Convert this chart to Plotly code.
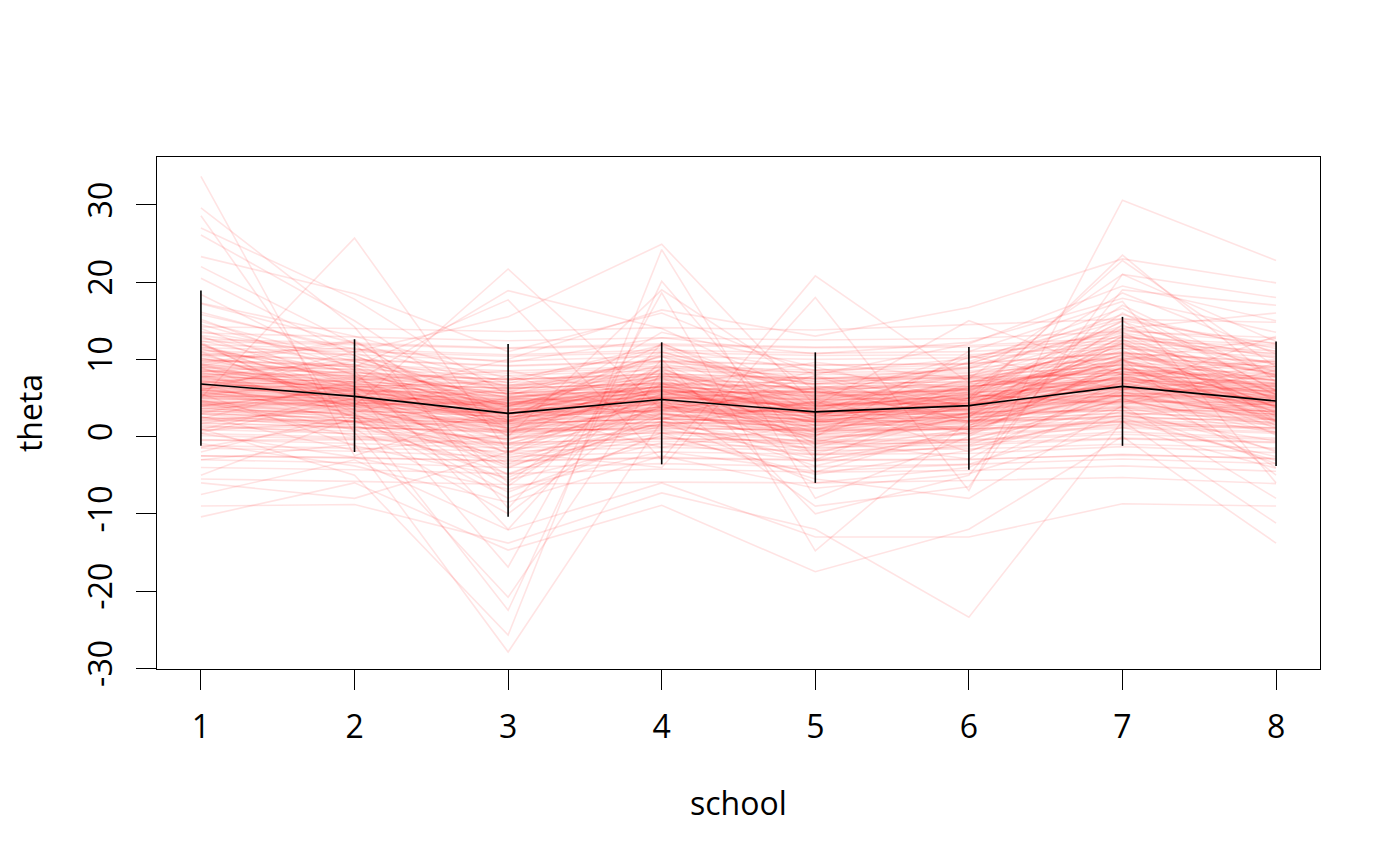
import plotly.graph_objects as go

# eight schools: posterior draws of theta + summary
schools = [1, 2, 3, 4, 5, 6, 7, 8]

theta_mean = [6.8, 5.2, 3.0, 4.8, 3.2, 4.0, 6.5, 4.6]
theta_low = [-1.2, -2.0, -10.4, -3.6, -6.0, -4.3, -1.2, -3.8]
theta_high = [18.9, 12.6, 12.0, 12.2, 10.9, 11.6, 15.5, 12.3]

y_ticks = [-30, -20, -10, 0, 10, 20, 30]
y_ticklabels = ["-30", "-20", "-10", "0", "10", "20", "30"]

draws = [
    [-2.5, -2.8, -3.1, -2.7, -3.0, -2.9, -2.4, -2.8],
    [-1.2, -1.5, -1.9, -1.4, -1.8, -1.6, -1.0, -1.5],
    [0.1, -0.3, -0.9, -0.2, -0.7, -0.5, 0.3, -0.4],
    [0.9, 0.4, -0.2, 0.5, 0.0, 0.2, 1.1, 0.4],
    [1.8, 1.2, 0.5, 1.3, 0.7, 0.9, 2.0, 1.1],
    [2.4, 1.9, 1.2, 1.8, 1.4, 1.6, 2.6, 1.8],
    [3.0, 2.4, 1.6, 2.3, 1.7, 2.0, 3.1, 2.2],
    [3.6, 2.9, 2.0, 2.8, 2.2, 2.5, 3.7, 2.7],
    [4.1, 3.4, 2.6, 3.3, 2.7, 3.0, 4.3, 3.2],
    [4.6, 3.9, 3.0, 3.8, 3.1, 3.5, 4.8, 3.7],
    [5.0, 4.4, 3.5, 4.2, 3.6, 3.9, 5.3, 4.1],
    [5.5, 4.8, 3.9, 4.6, 4.0, 4.3, 5.7, 4.5],
    [5.9, 5.2, 4.4, 5.0, 4.4, 4.7, 6.2, 4.9],
    [6.3, 5.6, 4.8, 5.5, 4.8, 5.1, 6.6, 5.3],
    [6.8, 6.1, 5.2, 6.0, 5.3, 5.6, 7.1, 5.8],
    [7.3, 6.5, 5.7, 6.4, 5.7, 6.0, 7.5, 6.2],
    [7.8, 7.1, 6.2, 6.9, 6.2, 6.5, 8.1, 6.7],
    [8.4, 7.6, 6.7, 7.5, 6.8, 7.1, 8.7, 7.3],
    [9.0, 8.3, 7.4, 8.1, 7.5, 7.7, 9.3, 7.9],
    [9.8, 9.1, 8.2, 8.9, 8.3, 8.5, 10.1, 8.7],
    [10.6, 10.0, 9.2, 9.8, 9.3, 9.4, 10.8, 9.6],
    [11.5, 11.0, 10.4, 10.9, 10.5, 10.6, 11.7, 10.8],
    [12.3, 11.9, 11.4, 11.8, 11.5, 11.6, 12.4, 11.7],
    [14.2, 14.0, 13.6, 14.1, 13.8, 14.5, 15.2, 14.8],
    [-4.0, -4.3, -4.8, -4.2, -4.6, -4.4, -3.8, -4.5],
    [-5.5, -5.8, -6.2, -5.9, -6.0, -5.7, -5.3, -6.1],
    [3.3, 3.2, 3.1, 3.3, 3.2, 3.2, 3.4, 3.3],
    [4.4, 4.3, 4.2, 4.4, 4.3, 4.3, 4.5, 4.4],
    [5.2, 5.0, 4.7, 5.0, 4.8, 4.9, 5.3, 5.0],
    [6.0, 5.9, 5.6, 5.8, 5.7, 5.8, 6.2, 5.9],
    [1.3, 1.1, 0.8, 1.0, 0.9, 1.0, 1.5, 1.1],
    [2.0, 2.1, 1.8, 2.2, 2.0, 2.1, 2.3, 2.2],
    [7.0, 6.7, 6.3, 6.8, 6.4, 6.6, 7.3, 6.8],
    [8.1, 7.9, 7.4, 7.8, 7.5, 7.6, 8.3, 7.8],
    [-0.5, -0.4, -1.1, -0.6, -0.9, -0.8, -0.2, -0.7],
    [9.5, 6.8, 2.1, 5.9, 1.8, 3.5, 10.2, 6.1],
    [12.4, 8.1, 4.3, 7.2, 3.0, 5.2, 11.8, 7.9],
    [7.8, 3.9, -1.5, 4.8, -0.2, 1.4, 8.9, 3.2],
    [5.3, 7.5, 0.8, 3.6, 5.9, 2.2, 6.8, 9.1],
    [10.8, 4.2, 6.1, 8.4, 2.7, 6.5, 12.6, 4.8],
    [3.2, 1.5, -4.8, 2.0, -2.3, -0.4, 4.9, 0.6],
    [14.9, 9.7, 5.8, 10.3, 7.1, 8.2, 13.4, 10.6],
    [6.5, 9.8, 3.7, 1.2, 4.5, 7.9, 5.1, 2.8],
    [8.9, 2.6, 1.9, 6.7, 4.8, 0.3, 9.7, 5.5],
    [1.7, 4.3, -2.1, 3.8, 0.6, 2.9, 3.4, -1.8],
    [11.6, 7.3, 8.5, 4.9, 6.2, 9.1, 14.0, 8.3],
    [4.7, 0.9, 2.4, 7.6, -1.4, 3.1, 7.2, 5.9],
    [17.2, 12.1, 6.9, 11.5, 8.6, 9.4, 15.8, 11.0],
    [-1.4, 2.1, -5.6, -0.8, -3.2, 0.7, 1.9, -2.6],
    [7.2, 5.4, -0.6, 9.3, 2.5, 4.7, 11.2, 1.4],
    [13.1, 10.5, 2.8, 8.0, 5.2, 6.3, 9.9, 12.7],
    [2.6, -1.8, 0.2, 1.5, -2.9, -1.1, 5.7, 2.0],
    [9.1, 8.7, 5.1, 6.3, 9.6, 7.4, 8.2, 6.9],
    [5.8, 3.1, 7.9, 2.4, 3.8, 5.5, 4.1, 8.6],
    [10.2, 5.7, -3.5, 4.1, 1.1, 2.6, 12.1, 3.7],
    [3.9, 6.2, 1.3, 5.4, 7.8, 1.9, 2.7, 4.4],
    [15.8, 11.3, 9.6, 12.8, 10.7, 12.2, 17.9, 13.5],
    [0.4, -2.7, -6.8, -1.9, -4.5, -3.6, 2.4, -3.1],
    [6.1, 4.0, 4.6, 3.0, 0.8, 6.8, 8.7, 7.4],
    [8.3, 6.0, 3.2, 10.9, 6.6, 4.0, 7.6, 9.8],
    [12.0, 5.0, 0.5, 6.5, 3.5, 2.0, 13.0, 5.5],
    [4.2, 2.8, -2.8, 1.7, 2.0, 0.9, 6.3, 2.5],
    [33.7, -2.5, 4.0, 6.5, 1.0, 3.0, 12.5, 8.0],
    [29.6, 14.2, -9.3, 12.1, 3.9, 6.2, 18.6, 10.7],
    [28.6, 0.5, -20.8, 8.5, -4.6, 1.3, 14.5, 5.4],
    [27.0, 17.8, 5.3, 10.4, 2.6, 7.5, 21.0, 12.3],
    [26.1, 15.0, 2.0, 13.5, 9.0, 4.5, 23.5, 7.0],
    [23.3, 18.5, 11.0, 16.0, 8.0, 12.0, 19.5, 15.0],
    [22.0, 12.0, -6.0, 9.0, -1.0, 2.5, 16.0, 6.0],
    [20.5, 10.5, 3.0, 7.0, 0.5, 5.0, 22.8, 9.0],
    [17.3, 13.0, 7.5, 11.0, 5.5, 9.5, 15.0, 12.0],
    [5.0, 25.7, -2.0, 5.5, 3.0, 1.0, 9.0, 4.0],
    [8.0, 4.0, 21.7, 3.5, 8.5, 6.0, 10.0, 2.0],
    [3.0, 7.0, 18.9, 14.0, 5.0, 10.5, 6.0, 13.0],
    [10.0, 9.0, 17.7, -3.0, 20.8, 7.0, 12.0, 3.0],
    [6.0, 11.0, 15.5, 24.9, 4.0, 15.0, 8.0, 10.0],
    [-3.0, -1.0, -27.9, 2.0, -6.0, -4.0, 5.0, -2.0],
    [1.0, -5.0, -25.7, 24.2, -8.0, 0.0, 10.0, -5.0],
    [12.0, 3.0, -22.5, 20.1, -3.0, 5.0, 15.0, 2.0],
    [4.0, 6.0, -16.9, 18.6, -14.8, 2.0, 7.0, -4.0],
    [-10.4, -6.0, -14.7, -8.9, -17.5, -12.0, 0.0, -13.8],
    [-9.0, -8.8, -13.8, -7.3, -12.0, -23.4, 2.0, -11.2],
    [-7.5, -3.0, -12.1, -6.0, -13.0, -13.0, -8.7, -9.0],
    [-6.0, -8.0, -2.0, -4.0, 18.0, -7.0, 30.6, 22.8],
    [0.5, 5.0, 10.0, 16.4, 13.0, 16.7, 23.0, 19.9],
    [2.5, 1.0, -10.0, 5.0, -9.0, -6.5, 21.0, 18.0],
    [-5.0, 2.5, -8.0, 0.5, -5.5, -8.0, 4.0, -8.0],
    [7.0, 8.5, -12.0, 10.0, -10.0, -5.0, 19.0, 17.0],
    [14.0, 6.5, -5.0, 3.0, 0.0, 11.0, 17.5, -6.0],
    [9.5, 12.5, 0.0, 19.0, 6.0, 3.5, 14.0, 16.0],
    [6.6, 4.9, 2.2, 5.3, 2.9, 3.7, 6.9, 4.6],
    [7.5, 5.8, 3.6, 4.1, 1.9, 4.4, 8.8, 3.9],
    [4.9, 4.6, 0.3, 6.2, 3.4, 2.8, 5.6, 5.1],
    [8.7, 7.0, 4.7, 7.9, 4.9, 6.1, 9.5, 6.4],
    [3.4, 2.0, -0.8, 2.9, 0.3, 1.2, 4.6, 1.6],
    [10.1, 8.0, 5.5, 7.0, 4.3, 6.9, 11.0, 8.2],
    [5.6, 6.4, 1.7, 4.4, 2.4, 5.0, 7.7, 3.4],
    [2.1, 3.6, 1.1, 0.7, -0.6, 2.4, 3.9, 2.9],
    [9.3, 4.7, 2.9, 5.7, 5.8, 3.3, 10.7, 7.2],
    [6.2, 7.7, 4.0, 8.6, 3.7, 7.3, 6.4, 5.2],
    [-3.0, -3.4, -4.0, -3.5, -3.9, -3.6, -2.9, -3.5],
    [-1.5, -1.9, -2.6, -2.0, -2.3, -2.2, -1.3, -2.1],
    [-0.4, -0.9, -1.5, -1.0, -1.4, -1.1, -0.3, -0.8],
    [0.4, -0.1, -0.8, -0.3, -0.5, -0.4, 0.6, -0.2],
    [1.2, 0.7, 0.0, 0.5, 0.2, 0.4, 1.3, 0.6],
    [1.7, 1.2, 0.6, 1.1, 0.8, 1.0, 1.9, 1.1],
    [2.2, 1.6, 0.9, 1.5, 1.0, 1.3, 2.1, 1.6],
    [2.5, 2.0, 1.4, 1.9, 1.5, 1.8, 2.6, 1.9],
    [2.9, 2.4, 1.7, 2.3, 1.9, 2.1, 3.0, 2.4],
    [3.3, 2.7, 2.0, 2.6, 2.2, 2.5, 3.4, 2.6],
    [3.6, 3.0, 2.2, 2.9, 2.4, 2.7, 3.8, 2.9],
    [3.9, 3.3, 2.6, 3.2, 2.7, 3.0, 4.0, 3.3],
    [4.2, 3.6, 2.9, 3.5, 3.0, 3.3, 4.4, 3.5],
    [4.4, 3.8, 3.1, 3.7, 3.2, 3.5, 4.6, 3.8],
    [4.6, 4.0, 3.3, 3.9, 3.4, 3.7, 4.8, 4.0],
    [4.8, 4.2, 3.4, 4.1, 3.6, 3.9, 5.0, 4.1],
    [5.0, 4.4, 3.6, 4.3, 3.8, 4.1, 5.3, 4.4],
    [5.2, 4.6, 3.8, 4.5, 4.0, 4.3, 5.4, 4.6],
    [5.4, 4.8, 4.0, 4.7, 4.2, 4.5, 5.7, 4.7],
    [5.6, 5.0, 4.2, 4.9, 4.3, 4.7, 5.9, 4.9],
    [5.8, 5.2, 4.3, 5.1, 4.5, 4.9, 6.1, 5.1],
    [6.0, 5.4, 4.5, 5.3, 4.7, 5.1, 6.3, 5.3],
    [6.2, 5.6, 4.7, 5.5, 4.9, 5.3, 6.5, 5.5],
    [6.4, 5.8, 4.9, 5.7, 5.1, 5.5, 6.7, 5.7],
    [6.6, 6.0, 5.1, 5.9, 5.3, 5.7, 6.9, 5.9],
    [6.8, 6.2, 5.3, 6.1, 5.5, 5.9, 7.2, 6.1],
    [7.1, 6.5, 5.6, 6.4, 5.8, 6.2, 7.4, 6.4],
    [7.4, 6.8, 5.9, 6.7, 6.1, 6.5, 7.7, 6.6],
    [7.7, 7.1, 6.2, 7.0, 6.4, 6.8, 8.0, 6.9],
    [8.1, 7.4, 6.6, 7.3, 6.8, 7.1, 8.4, 7.3],
    [8.5, 7.8, 7.0, 7.7, 7.2, 7.5, 8.8, 7.7],
    [8.9, 8.2, 7.4, 8.1, 7.6, 7.9, 9.2, 8.1],
    [9.3, 8.7, 7.9, 8.6, 8.0, 8.3, 9.6, 8.5],
    [9.9, 9.3, 8.5, 9.1, 8.6, 8.9, 10.2, 9.1],
    [10.5, 9.9, 9.1, 9.7, 9.2, 9.5, 10.8, 9.7],
    [11.1, 10.6, 9.8, 10.4, 10.0, 10.2, 11.4, 10.3],
    [11.9, 11.3, 10.6, 11.2, 10.8, 11.0, 12.1, 11.1],
    [12.6, 12.1, 11.5, 12.0, 11.6, 11.8, 12.8, 11.9],
    [13.4, 12.9, 12.4, 12.8, 12.5, 12.7, 13.6, 12.8],
    [-2.5, -2.7, -3.2, -2.8, -3.1, -3.0, -2.3, -2.9],
    [8.2, 5.9, 2.1, 5.0, 2.8, 3.9, 8.5, 5.2],
    [9.0, 6.5, 3.4, 6.1, 2.2, 4.6, 9.8, 6.0],
    [7.1, 5.2, 1.1, 4.4, 1.9, 3.0, 7.9, 4.0],
    [6.0, 4.3, 0.6, 3.9, 1.2, 2.6, 7.4, 3.6],
    [10.4, 7.6, 4.0, 6.8, 4.5, 5.7, 10.9, 7.1],
    [5.4, 3.6, -0.4, 3.1, 0.5, 1.8, 6.5, 2.8],
    [11.3, 8.4, 5.5, 8.2, 5.9, 7.0, 12.0, 8.0],
    [4.6, 2.7, -1.1, 2.4, -0.3, 1.2, 5.8, 2.1],
    [7.9, 6.9, 3.0, 5.6, 3.6, 4.9, 9.1, 4.7],
    [3.8, 1.9, -1.9, 1.6, -0.9, 0.4, 4.7, 1.3],
    [12.8, 9.2, 6.3, 9.0, 6.9, 7.8, 13.1, 9.3],
    [6.9, 4.5, 2.7, 3.5, 3.2, 4.2, 8.1, 5.6],
    [9.7, 7.8, 4.9, 7.4, 5.0, 6.2, 10.5, 6.7],
    [5.1, 5.5, 1.9, 4.7, 2.6, 3.4, 6.0, 4.3],
    [8.6, 6.2, 2.5, 5.2, 3.9, 5.4, 9.4, 5.9],
    [2.9, 1.3, -2.4, 0.9, -1.6, -0.3, 3.8, 0.5],
    [10.9, 8.9, 5.0, 7.8, 6.1, 7.6, 11.5, 8.8],
    [6.3, 3.4, 0.2, 4.0, 1.5, 2.9, 7.0, 3.0],
    [7.6, 6.6, 3.8, 6.0, 4.1, 4.4, 8.4, 6.5],
    [4.3, 3.9, 1.5, 2.5, 1.0, 2.0, 5.2, 3.1],
    [11.8, 7.0, 3.3, 6.6, 3.6, 5.5, 10.6, 6.9],
    [1.5, 0.3, -3.6, 0.0, -2.4, -1.3, 2.8, -0.6],
    [9.4, 5.3, 1.6, 4.9, 2.0, 3.9, 9.9, 4.2],
    [5.7, 4.1, 2.4, 3.4, 2.1, 3.6, 6.8, 3.9],
    [13.6, 10.2, 6.6, 9.8, 7.4, 8.8, 14.3, 10.1],
    [0.8, 1.9, -3.0, 0.4, -1.1, -0.7, 1.7, 0.9],
    [7.3, 4.7, 4.3, 6.5, 3.3, 4.0, 7.8, 4.5],
    [6.7, 6.3, 2.9, 5.1, 4.0, 5.0, 7.6, 5.4],
    [8.8, 5.6, 2.4, 6.2, 2.9, 4.3, 10.0, 5.0],
    [4.0, 2.4, 0.7, 1.9, 0.3, 1.5, 5.4, 2.3],
    [14.5, 9.0, 0.9, 7.7, 2.2, 5.8, 14.9, 8.4],
    [11.0, 3.5, -4.1, 3.9, -1.9, 1.0, 12.4, 2.6],
    [0.9, 5.6, -3.9, 1.4, 4.6, -2.0, 6.1, 7.8],
    [16.1, 10.9, 3.9, 9.4, 6.8, 8.9, 13.8, 12.1],
    [9.2, 12.3, 1.0, 6.0, -0.8, 4.1, 11.5, 3.8],
    [5.5, -1.2, -5.3, 2.6, -3.8, 0.6, 8.2, 1.1],
    [13.0, 6.4, 7.2, 11.8, 3.1, 9.7, 16.6, 5.9],
    [2.3, 7.3, 3.5, -1.4, 1.6, 5.4, 4.4, 9.5],
    [18.4, 8.6, 2.6, 10.6, 5.6, 6.0, 13.2, 9.4],
    [-2.0, 3.0, -7.2, 0.2, -4.9, -1.8, 3.3, -3.5],
    [7.7, 10.0, 5.9, 2.2, 7.9, 3.8, 12.9, 10.4],
    [12.2, 2.3, -1.0, 5.1, 0.1, 6.4, 9.3, 1.9],
    [3.6, 4.8, -6.4, 6.9, -0.4, -2.9, 7.4, 3.3],
    [10.6, 11.5, 6.4, 9.6, 8.2, 10.1, 15.3, 11.4],
    [6.8, 1.7, 5.0, 4.3, -2.2, 2.7, 5.3, 6.6],
    [15.2, 7.9, -2.3, 8.8, 1.4, 3.7, 17.0, 7.6],
    [-0.9, -3.8, -8.5, -2.5, -6.7, -4.8, 1.2, -4.1],
    [8.4, 9.4, 1.8, 12.0, 5.3, 8.0, 10.4, 9.0],
    [4.5, 0.0, -0.3, 3.4, 6.3, 1.7, 9.0, 0.2],
    [11.4, 6.1, 4.4, 5.8, 2.3, 10.3, 13.5, 4.6],
]

fig = go.Figure()

for d in draws:
    fig.add_trace(go.Scatter(x=schools, y=d, mode="lines",
                             line=dict(color="rgba(255,0,0,0.11)", width=1.6),
                             hoverinfo="skip", showlegend=False))

err_up = [h - m for h, m in zip(theta_high, theta_mean)]
err_dn = [m - l for m, l in zip(theta_mean, theta_low)]

fig.add_trace(go.Scatter(x=schools, y=theta_mean, mode="lines",
                         line=dict(color="black", width=1.6),
                         error_y=dict(type="data", array=err_up, arrayminus=err_dn,
                                      symmetric=False, color="black",
                                      thickness=1.6, width=0),
                         showlegend=False))

fnt = dict(family="Open Sans", size=32, color="black")

# page body has an 8px margin, so the margins are shifted by 8
fig.update_layout(
    width=1400, height=866,
    margin=dict(l=149, r=88, t=149, b=205),
    paper_bgcolor="white", plot_bgcolor="white",
    font=fnt,
    xaxis=dict(range=[0.714, 8.286], tickvals=schools, ticks="outside",
               ticklen=20, tickwidth=1.3, tickcolor="black",
               showline=True, linecolor="black", linewidth=1.3, mirror=True,
               showgrid=False, zeroline=False, tickfont=fnt,
               ticklabelstandoff=9, automargin=False),
    yaxis=dict(range=[-30.1, 36.2], tickmode="array", tickvals=y_ticks,
               ticktext=y_ticklabels,
               ticks="outside", ticklen=20, tickwidth=1.3, tickcolor="black",
               showline=True, linecolor="black", linewidth=1.3, mirror=True,
               showgrid=False, zeroline=False, tickfont=fnt, tickangle=-90,
               ticklabelstandoff=11, automargin=False,
               title=dict(text="theta", font=fnt, standoff=40)),
    annotations=[
        dict(text="school", x=0.5, y=-0.2617, xref="paper", yref="paper",
             xanchor="center", yanchor="middle", showarrow=False, font=fnt),
    ],
)

fig.write_html("out.html")
